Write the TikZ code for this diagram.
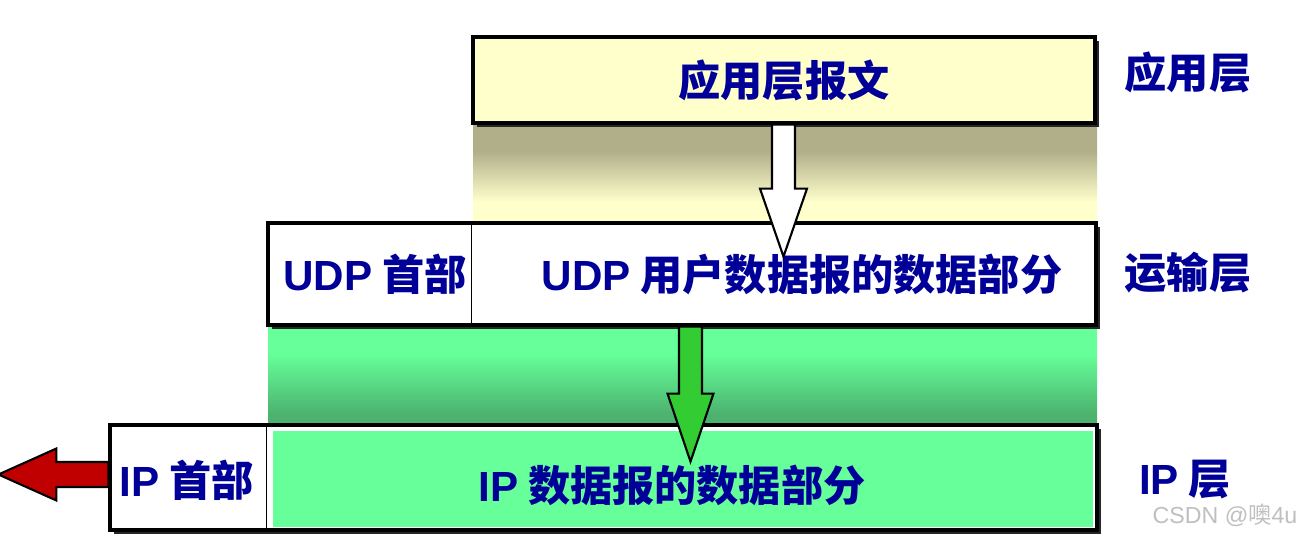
\documentclass[tikz,border=0pt]{standalone}
\usepackage{fontspec}
\setmainfont{Noto Sans CJK SC}
\newfontfamily\arialfont{Liberation Sans}
\usetikzlibrary{calc,positioning,shadows,backgrounds}

\definecolor{labelblue}{RGB}{0,0,153}
\definecolor{appyellow}{RGB}{255,255,204}
\definecolor{olivetop}{RGB}{176,175,138}
\definecolor{iplight}{RGB}{102,255,153}
\definecolor{ipdark}{RGB}{76,178,110}
\definecolor{arrowgreen}{RGB}{51,204,51}
\definecolor{arrowred}{RGB}{192,0,0}

\pgfdeclareverticalshading{appfade}{100bp}{color(0bp)=(appyellow); color(37bp)=(appyellow); color(62bp)=(olivetop); color(100bp)=(olivetop)}
\pgfdeclareverticalshading{ipfade}{100bp}{color(0bp)=(ipdark); color(30bp)=(ipdark); color(61bp)=(iplight); color(100bp)=(iplight)}

\newcommand{\en}[1]{{\arialfont\bfseries #1}}

\begin{document}
\begin{tikzpicture}[
    pkt/.style={draw=black, line width=0.9pt, rectangle, inner sep=0pt,
                drop shadow={shadow xshift=0.035cm, shadow yshift=-0.035cm, fill=black!85, opacity=1}},
    txt/.style={text=labelblue, font=\fontsize{12}{14}\selectfont\bfseries, inner sep=1pt},
    blockarrow/.style={draw=black, line width=0.6pt, line join=miter}
]
    \useasboundingbox (0,0) rectangle (13.04,5.36);

    % Packets
    \node[pkt, fill=appyellow, minimum width=6.22cm, minimum height=0.86cm, txt] (app) at (7.84,4.56) {应用层报文};
    \node[pkt, fill=white, minimum width=8.28cm, minimum height=1.02cm] (udp) at (6.82,2.62) {};
    \node[pkt, fill=white, minimum width=9.87cm, minimum height=1.05cm] (ip) at (6.035,0.585) {};

    % Gradients between the layers
    \begin{scope}[on background layer]
        \shade[shading=appfade] (4.73,4.11) rectangle (10.97,3.10);
        \shade[shading=ipfade] (2.68,2.09) rectangle (10.97,1.12);
    \end{scope}

    % UDP datagram
    \draw[line width=0.5pt] (udp.north -| app.west) -- (udp.south -| app.west);
    \node[txt] (udphdr) at (3.75,2.62) {\en{UDP} 首部};
    \node[txt] (udpdata) at (8.02,2.62) {\en{UDP} 用户数据报的数据部分};

    % IP datagram
    \fill[iplight] (2.73,1.05) rectangle (10.93,0.09);
    \draw[line width=0.5pt] (udp.west |- ip.north) -- (udp.west |- ip.south);
    \node[txt] (iphdr) at (1.865,0.56) {\en{IP} 首部};
    \node[txt] (ipdata) at (6.72,0.51) {\en{IP} 数据报的数据部分};

    % Layer names
    \node[txt] (applayer) at (11.88,4.64) {应用层};
    \node[txt] (translayer) at (11.88,2.63) {运输层};
    \node[txt] (iplayer) at (11.85,0.56) {\en{IP} 层};

    % Block arrows
    \coordinate (wtop) at (app.south -| 7.835,0);
    \draw[blockarrow, fill=white] (wtop) ++(-0.115,0) -- ++(0,-0.64) -- ++(-0.12,0)
        -- ++(0.235,-0.68) -- ++(0.235,0.68) -- ++(-0.12,0) -- ++(0,0.64) -- cycle;
    \coordinate (gtop) at (udp.south -| 6.905,0);
    \draw[blockarrow, fill=arrowgreen] (gtop) ++(-0.115,0) -- ++(0,-0.67) -- ++(-0.115,0)
        -- ++(0.23,-0.68) -- ++(0.23,0.68) -- ++(-0.115,0) -- ++(0,0.67) -- cycle;
    \coordinate (rtail) at (ip.west |- 0,0.615);
    \draw[blockarrow, fill=arrowred] (rtail) ++(0,0.125) -- ++(-0.52,0) -- ++(0,0.135)
        -- ++(-0.58,-0.26) -- ++(0.58,-0.26) -- ++(0,0.135) -- ++(0.52,0) -- cycle;

    % Watermark
    \node[text=black!25, font=\fontsize{6.6}{7.5}\selectfont, inner sep=0pt] (mark) at (12.25,0.21) {\arialfont CSDN @\normalfont 噢\arialfont 4u};
\end{tikzpicture}
\end{document}
